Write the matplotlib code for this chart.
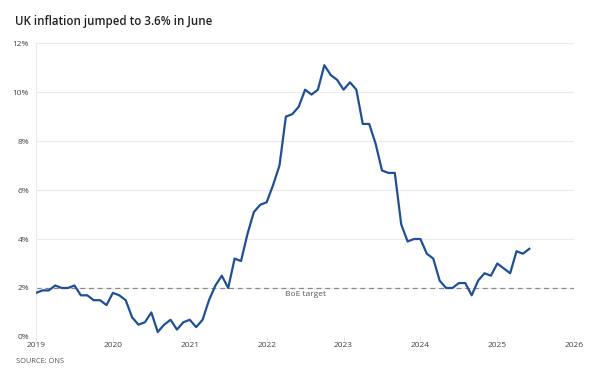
import numpy as np
import matplotlib.pyplot as plt

plt.rcParams['font.family'] = ['Open Sans', 'DejaVu Sans']

# UK CPI annual rate, monthly from Jan 2019 to Jun 2025
cpi_2019 = [1.8, 1.9, 1.9, 2.1, 2.0, 2.0, 2.1, 1.7, 1.7, 1.5, 1.5, 1.3]
cpi_2020 = [1.8, 1.7, 1.5, 0.8, 0.5, 0.6, 1.0, 0.2, 0.5, 0.7, 0.3, 0.6]
cpi_2021 = [0.7, 0.4, 0.7, 1.5, 2.1, 2.5, 2.0, 3.2, 3.1, 4.2, 5.1, 5.4]
cpi_2022 = [5.5, 6.2, 7.0, 9.0, 9.1, 9.4, 10.1, 9.9, 10.1, 11.1, 10.7, 10.5]
cpi_2023 = [10.1, 10.4, 10.1, 8.7, 8.7, 7.9, 6.8, 6.7, 6.7, 4.6, 3.9, 4.0]
cpi_2024 = [4.0, 3.4, 3.2, 2.3, 2.0, 2.0, 2.2, 2.2, 1.7, 2.3, 2.6, 2.5]
cpi_2025 = [3.0, 2.8, 2.6, 3.5, 3.4, 3.6]
cpi = cpi_2019 + cpi_2020 + cpi_2021 + cpi_2022 + cpi_2023 + cpi_2024 + cpi_2025
start_year = 2019
target = 2.0
x_ticks = [2019, 2020, 2021, 2022, 2023, 2024, 2025, 2026]
y_ticks = [0, 2, 4, 6, 8, 10, 12]

dates = start_year + np.arange(len(cpi)) / 12

fig = plt.figure(figsize=(6, 3.82), dpi=100)
ax = fig.add_axes([0.06, 0.118, 0.897, 0.769])

ax.plot(dates, cpi, color='#1f4f96', lw=1.6, zorder=3)
ax.axhline(target, color='#8a8a8a', lw=0.9, ls=(0, (4, 3)), zorder=2)
ax.text(2022.5, target - 0.12, 'BoE target', ha='center', va='top',
        fontsize=6, color='#555555')

ax.set_xlim(2019, 2026)
ax.set_ylim(0, 12)
ax.set_xticks(x_ticks)
ax.set_xticklabels([str(t) for t in x_ticks])
ax.set_yticks(y_ticks)
ax.set_yticklabels([f'{t}%' for t in y_ticks])
ax.grid(axis='y', color='#ebebeb', lw=0.8)
ax.set_axisbelow(True)
for s in ax.spines.values():
    s.set_visible(False)
ax.spines['left'].set_visible(True)
ax.spines['left'].set_color('#ebebeb')
ax.spines['left'].set_linewidth(0.8)
ax.tick_params(labelsize=6, colors='#444444')
ax.tick_params(axis='x', length=3, width=0.6, color='#dddddd', pad=1)
ax.tick_params(axis='y', length=0, pad=5)

fig.text(0.025, 0.943, 'UK inflation jumped to 3.6% in June', fontsize=8.3,
         color='#222222', va='center', fontweight='semibold')
fig.text(0.027, 0.053, 'SOURCE: ONS', fontsize=5.3, color='#555555', va='center')

fig.savefig('out.png', dpi=100)
